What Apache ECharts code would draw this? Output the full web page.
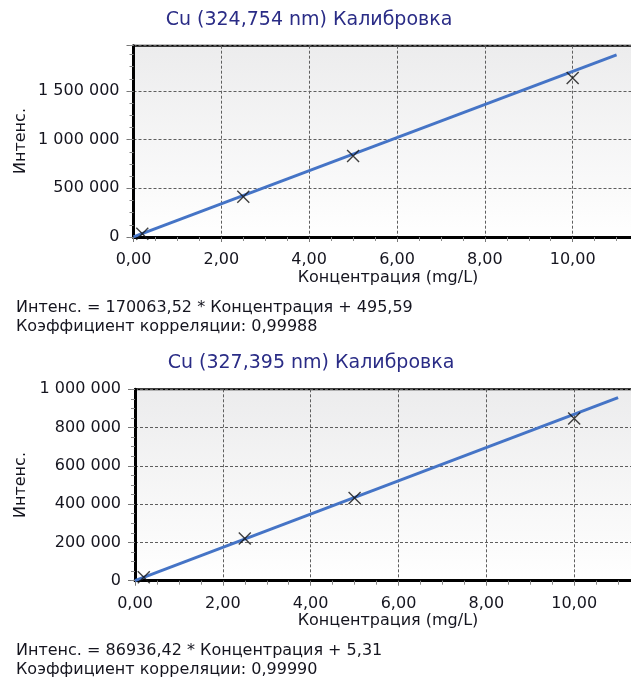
<!DOCTYPE html>
<html>
<head>
<meta charset="utf-8">
<script src="https://cdn.jsdelivr.net/npm/echarts@6/dist/echarts.min.js"></script>
<style>html,body{margin:0;padding:0;background:#fff;}#c{width:631px;height:679px;}</style>
</head>
<body>
<div id="c"></div>
<script>
// ---- data ----
var conc = [0.2, 2.5, 5, 10];
var intens1 = [34000, 414000, 832000, 1632000];
var intens2 = [17500, 221000, 432000, 848000];
var fitConc = [0, 11];
var fit1 = [496, 1871195];
var fit2 = [5, 956306];
var xTicks = [0, 2, 4, 6, 8, 10];
var y1Ticks = [0, 500000, 1000000, 1500000];
var y2Ticks = [0, 200000, 400000, 600000, 800000, 1000000];
var title1 = 'Cu (324,754 nm) Калибровка';
var title2 = 'Cu (327,395 nm) Калибровка';
var eq1 = 'Интенс. = 170063,52 * Концентрация + 495,59';
var cor1 = 'Коэффициент корреляции: 0,99988';
var eq2 = 'Интенс. = 86936,42 * Концентрация + 5,31';
var cor2 = 'Коэффициент корреляции: 0,99990';
var yName = 'Интенс.';
var xName = 'Концентрация (mg/L)';

var FONT = '"DejaVu Sans", Verdana, sans-serif';
var FS = 16;
var TXT = '#15151f';

function pairs(xs, ys) { return xs.map(function (x, i) { return [x, ys[i]]; }); }
function fmtY(ticks) {
  return function (v) {
    if (ticks.indexOf(v) < 0) return '';
    return String(v).replace(/\B(?=(\d{3})+(?!\d))/g, ' ');
  };
}
function fmtX(v) { return xTicks.indexOf(v) < 0 ? '' : v.toFixed(2).replace('.', ','); }

var bg = new echarts.graphic.LinearGradient(0, 0, 0, 1, [
  { offset: 0, color: '#ececed' }, { offset: 0.8, color: '#fbfbfb' }, { offset: 1, color: '#ffffff' }
]);

function xAxisCfg(gi) {
  return {
    gridIndex: gi, type: 'value', min: 0, max: 12, interval: 2,
    axisLine: { show: true, onZero: false, lineStyle: { color: '#000', width: 3 } },
    axisTick: { show: true, length: 5, lineStyle: { color: '#777' } },
    minorTick: { show: true, splitNumber: 4, length: 4, lineStyle: { color: '#888' } },
    axisLabel: { formatter: fmtX, margin: 15, color: TXT, fontFamily: FONT, fontSize: FS },
    splitLine: { show: true, lineStyle: { color: '#5e5e5e', type: [3, 2], width: 1 } }
  };
}
function yAxisMain(gi, max, interval, ticks) {
  return {
    gridIndex: gi, type: 'value', min: 0, max: max, interval: interval,
    axisLine: { show: true, onZero: false, lineStyle: { color: '#000', width: 3 } },
    axisTick: { show: true, length: 7, lineStyle: { color: '#777' } },
    axisLabel: { formatter: fmtY(ticks), margin: 14, color: TXT, fontFamily: FONT, fontSize: FS },
    splitLine: { show: true, lineStyle: { color: '#5e5e5e', type: [3, 2], width: 1 } }
  };
}
function yAxisMinor(gi, max, interval) {
  return {
    gridIndex: gi, type: 'value', position: 'left', min: 0, max: max, interval: interval,
    axisLine: { show: false },
    axisTick: { show: true, length: 4, lineStyle: { color: '#888' } },
    axisLabel: { show: false },
    splitLine: { show: false }
  };
}

var markerSym = 'path://M0 0L10 10M10 0L0 10';

function txt(x, y, text, opts) {
  opts = opts || {};
  return {
    type: 'text', x: x, y: y, rotation: opts.rot || 0, z: 100,
    style: {
      text: text, fill: opts.color || TXT, font: (opts.fs || FS) + 'px ' + FONT,
      textAlign: opts.align || 'left', textVerticalAlign: 'middle',
      align: opts.align || 'left', verticalAlign: 'middle'
    }
  };
}

var chart = echarts.init(document.getElementById('c'), null, { renderer: 'canvas' });
chart.setOption({
  animation: false,
  backgroundColor: '#fff',
  grid: [
    { left: 133.5, top: 45.7, width: 527, height: 191.3, show: true, backgroundColor: bg, borderColor: '#000', borderWidth: 2, outerBoundsMode: 'none', containLabel: false },
    { left: 135, top: 389.3, width: 527, height: 191.4, show: true, backgroundColor: bg, borderColor: '#000', borderWidth: 2, outerBoundsMode: 'none', containLabel: false }
  ],
  xAxis: [xAxisCfg(0), xAxisCfg(1)],
  yAxis: [
    yAxisMain(0, 1965000, 500000, y1Ticks), yAxisMinor(0, 1965000, 125000),
    yAxisMain(1, 1000000, 200000, y2Ticks), yAxisMinor(1, 1000000, 50000)
  ],
  series: [
    { type: 'line', xAxisIndex: 0, yAxisIndex: 0, data: pairs(fitConc, fit1), symbol: 'none',
      lineStyle: { color: '#4574c6', width: 3 }, z: 3 },
    { type: 'scatter', xAxisIndex: 0, yAxisIndex: 0, data: pairs(conc, intens1), symbol: markerSym, symbolSize: 12,
      itemStyle: { color: 'none', borderColor: '#111', borderWidth: 1.4 }, z: 4 },
    { type: 'line', xAxisIndex: 1, yAxisIndex: 2, data: pairs(fitConc, fit2), symbol: 'none',
      lineStyle: { color: '#4574c6', width: 3 }, z: 3 },
    { type: 'scatter', xAxisIndex: 1, yAxisIndex: 2, data: pairs(conc, intens2), symbol: markerSym, symbolSize: 12,
      itemStyle: { color: 'none', borderColor: '#111', borderWidth: 1.4 }, z: 4 }
  ],
  graphic: [
    txt(309, 20, title1, { align: 'center', color: '#2a2c86', fs: 19 }),
    txt(21, 141, yName, { align: 'center', rot: Math.PI / 2 }),
    txt(388, 278, xName, { align: 'center' }),
    txt(16, 308, eq1),
    txt(16, 327, cor1),
    txt(311, 363, title2, { align: 'center', color: '#2a2c86', fs: 19 }),
    txt(21, 485, yName, { align: 'center', rot: Math.PI / 2 }),
    txt(388, 621, xName, { align: 'center' }),
    txt(16, 651, eq2),
    txt(16, 670, cor2)
  ]
});
</script>
</body>
</html>
